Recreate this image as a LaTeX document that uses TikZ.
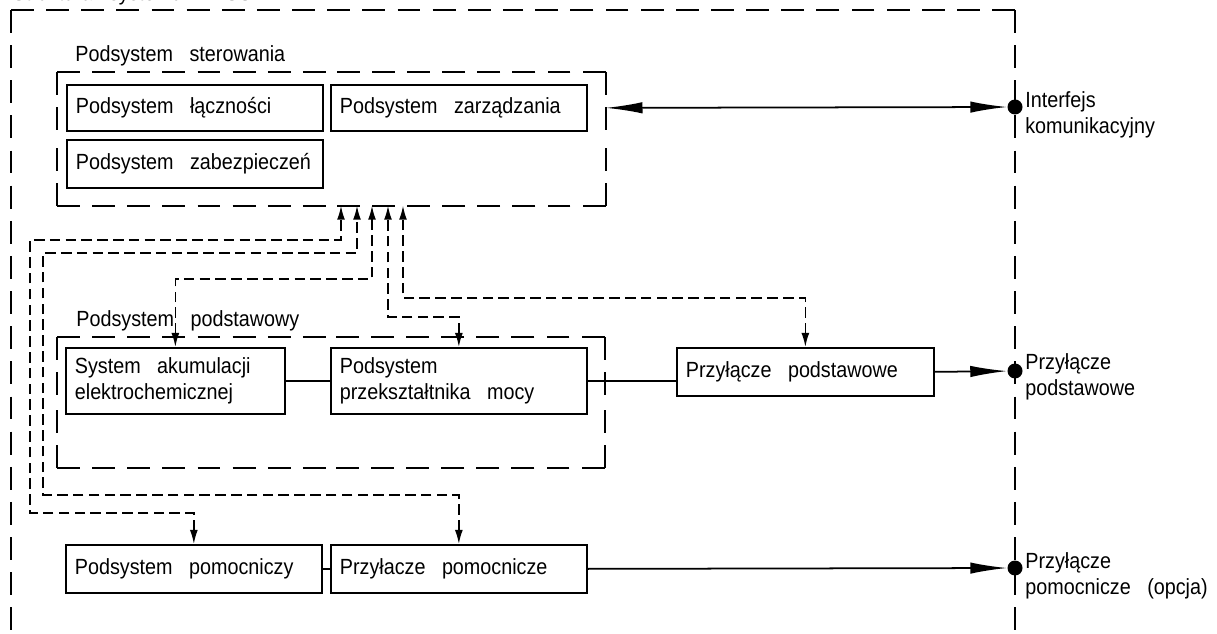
\documentclass[tikz,border=0pt]{standalone}
\usepackage{fontspec}
\setmainfont{Liberation Sans}[FakeStretch=0.9, WordSpace=3]
\usetikzlibrary{arrows.meta}

\tikzset{
  blok/.style={draw, line width=1pt, anchor=north west, inner xsep=0.18cm, inner ysep=0pt, align=flush left, text width=#1},
  obszar/.style={anchor=north west, inner sep=0pt},
  ramka/.style={line width=1.1pt, dash pattern=on 13pt off 7pt},
  linia/.style={line width=1pt},
  sygnal/.style={line width=0.9pt, dash pattern=on 6pt off 3pt,
    {Latex[length=8pt,width=4.5pt]}-{Latex[length=8pt,width=4.5pt]}},
  wyjscie/.style={line width=1pt, -{Latex[length=21pt,width=6.5pt]}},
  dwustr/.style={line width=1pt, {Latex[length=21pt,width=6.5pt]}-{Latex[length=21pt,width=6.5pt]}},
  kropka/.style={circle, fill, inner sep=0pt, minimum size=0.3cm},
  opis/.style={anchor=north west, inner sep=0pt, align=left},
  tytul/.style={anchor=base west, inner sep=0pt}
}
% dashed frame: every side drawn from its two corners to its middle, so the corners stay solid
\newcommand{\boki}[1]{%
  \foreach \a/\b in {north west/north, north east/north, north east/east, south east/east,
                     south east/south, south west/south, south west/west, north west/west}
    \draw[ramka] (#1.\a) -- (#1.\b);}

\begin{document}
\begin{tikzpicture}[x=0.02cm, y=-0.02cm, font=\fontsize{12.5}{15}\selectfont]
  \useasboundingbox (0,0) rectangle (1217,634);

  % outer frame
  \node[tytul] (struktura) at (12,1) {Struktura systemu BESS};
  \draw[ramka] (11,10) -- (513,10);
  \draw[ramka] (1015,10) -- (513,10);
  \draw[ramka] (11,10) -- (11,660);
  \draw[ramka] (1015,10) -- (1015,660);

  % control subsystem
  \node[obszar, minimum width=10.96cm, minimum height=2.66cm] (ster) at (57,72) {};
  \boki{ster}
  \node[tytul] (lster) at (75,62) {Podsystem sterowania};
  \node[blok=4.76cm, minimum height=0.92cm] (lacz) at (66,84) {Podsystem łączności};
  \node[blok=4.76cm, minimum height=0.92cm] (zarz) at (330,84) {Podsystem zarządzania};
  \node[blok=4.76cm, minimum height=0.96cm] (zabez) at (66,139) {Podsystem zabezpieczeń};

  % basic subsystem
  \node[obszar, minimum width=10.94cm, minimum height=2.6cm] (podst) at (57,337) {};
  \boki{podst}
  \node[tytul] (lpodst) at (76,327) {Podsystem podstawowy};
  \node[blok=4.02cm, minimum height=1.32cm] (akum) at (65,347) {System akumulacji\\elektrochemicznej};
  \node[blok=4.76cm, minimum height=1.32cm] (przeks) at (330,347) {Podsystem\\przekształtnika mocy};
  \node[blok=4.78cm, minimum height=0.96cm] (przyl) at (676,347) {Przyłącze podstawowe};

  % auxiliary
  \node[blok=4.76cm, minimum height=0.96cm] (pomoc) at (65,544) {Podsystem pomocniczy};
  \node[blok=4.76cm, minimum height=0.96cm] (przpom) at (330,544) {Przyłacze pomocnicze};

  % terminals
  \node[kropka] (intf) at (1015,107) {};
  \node[kropka] (wyjp) at (1015,371) {};
  \node[kropka] (wyjpom) at (1015,568) {};
  \node[opis] (lintf) at (1025,91) {Interfejs\\komunikacyjny};
  \node[opis] (lwyjp) at (1025,353) {Przyłącze\\podstawowe};
  \node[opis] (lwyjpom) at (1025,552) {Przyłącze\\pomocnicze (opcja)};

  % power lines
  \draw[linia] (akum.east) -- (przeks.west);
  \draw[linia] (przeks.east) -- (przeks.east -| przyl.west);
  \draw[linia] (pomoc.east) -- (przpom.west);
  \draw[wyjscie] (przyl.east) -- (wyjp);
  \draw[wyjscie] (przpom.east) -- (wyjpom);
  \draw[dwustr] (ster.east |- zarz.east) -- (intf);

  % control signals
  \draw[sygnal] (pomoc.north) |- (30,513) |- (341,240) -- (ster.south -| 341,0);
  \draw[sygnal] (przpom.north) |- (43,495) |- (357,253) -- (ster.south -| 357,0);
  \draw[sygnal] (akum.north) |- (372,279) -- (ster.south -| 372,0);
  \draw[sygnal] (przeks.north) |- (388,317) -- (ster.south -| 388,0);
  \draw[sygnal] (przyl.north) |- (403,298) -- (ster.south -| 403,0);
\end{tikzpicture}
\end{document}
